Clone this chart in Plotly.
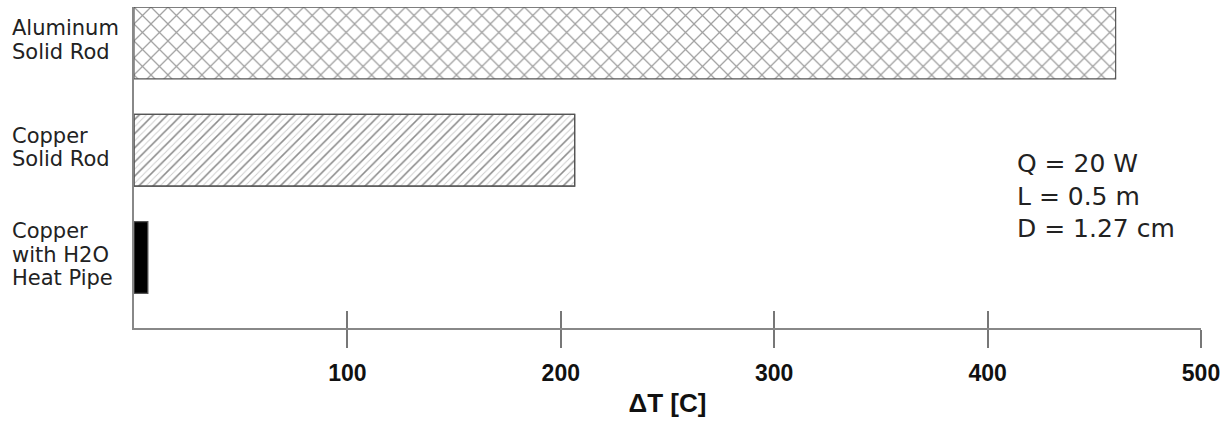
import plotly.graph_objects as go

categories = ["Aluminum<br>Solid Rod", "Copper<br>Solid Rod", "Copper<br>with H2O<br>Heat Pipe"]
delta_t = [460, 206.5, 6.5]
patterns = ["x", "/", ""]
colors = ["white", "rgba(0,0,0,0)", "black"]
tick_vals = [100, 200, 300, 400, 500]
tick_text = ["100", "200", "300", "400", "500"]
note = "Q = 20 W<br>L = 0.5 m<br>D = 1.27 cm"

fig = go.Figure()
# light mid-lines for the copper rod hatch (drawn beneath the main hatch)
fig.add_trace(go.Bar(
    x=[delta_t[1]], y=[categories[1]], orientation="h",
    marker=dict(color="white", line=dict(color="#555555", width=1.2),
                pattern=dict(shape="/", fgcolor="#9a9a9a", bgcolor="white",
                             size=5, solidity=0.18)),
    width=0.67, showlegend=False, hoverinfo="skip",
))
fig.add_trace(go.Bar(
    x=delta_t, y=categories, orientation="h",
    marker=dict(color=colors,
                line=dict(color="#555555", width=1.2),
                pattern=dict(shape=patterns, fgcolor="#222222",
                             bgcolor=colors,
                             size=[12, 10, 10], solidity=[0.2, 0.16, 0.16],
                             fillmode="overlay")),
    width=0.67, showlegend=False,
))
# invisible trace for overlaid axis (inside ticks)
fig.add_trace(go.Scatter(x=[0, 500], y=[categories[0], categories[0]], xaxis="x2",
                         mode="markers", marker=dict(opacity=0), showlegend=False,
                         hoverinfo="skip"))

for c in categories:
    lines = c.split("<br>")
    n = len(lines)
    for k, ln in enumerate(lines):
        fig.add_annotation(x=-0.1162, xref="paper", y=c, yref="y", text=ln, showarrow=False,
                           xanchor="left", yanchor="middle", align="left",
                           yshift=-(k - (n - 1) / 2) * 23.5 + 3,
                           font=dict(family="DejaVu Sans", size=21, color="#222222"))

fig.add_annotation(x=0.826, xref="paper", y=0.411, yref="paper", text=note, showarrow=False,
                   xanchor="left", yanchor="middle", align="left",
                   font=dict(family="DejaVu Sans", size=25, color="#222222"))

fig.update_layout(
    width=1229, height=423,
    margin=dict(l=134, r=28, t=7, b=95),
    plot_bgcolor="white", paper_bgcolor="white",
    barmode="overlay",
    xaxis=dict(range=[0, 500], tickvals=tick_vals, ticktext=tick_text,
               ticks="outside", ticklen=18, tickcolor="#777777", tickwidth=1.5,
               ticklabelstandoff=6,
               showline=True, linecolor="#888888", linewidth=1.5,
               showgrid=False, zeroline=False,
               tickfont=dict(family="Liberation Sans", size=23, color="#111111", weight="bold"),
               title=dict(text="<b>ΔT [C]</b>", standoff=8,
                          font=dict(family="Liberation Sans", size=26, color="#111111"))),
    xaxis2=dict(range=[0, 500], overlaying="x", side="bottom", tickvals=tick_vals,
                ticks="inside", ticklen=17, tickcolor="#777777", tickwidth=1.5,
                showticklabels=False, showgrid=False, zeroline=False, showline=False),
    yaxis=dict(type="category", categoryorder="array", categoryarray=categories,
               range=[2.657, -0.336], showticklabels=False,
               showline=True, linecolor="#888888", linewidth=1.5,
               showgrid=False, zeroline=False, ticks=""),
)

fig.write_html("out.html", config={"displayModeBar": False},
               post_script="document.body.style.margin='0px';")
